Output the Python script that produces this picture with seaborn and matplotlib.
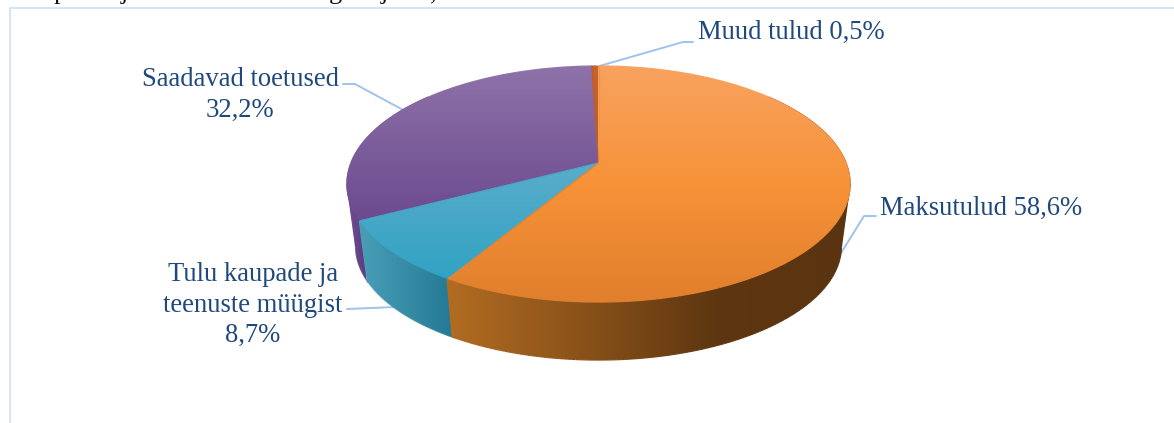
import numpy as np
import matplotlib
matplotlib.use("Agg")
import matplotlib.pyplot as plt
from matplotlib.collections import LineCollection
from matplotlib.colors import ListedColormap
from matplotlib.patches import PathPatch
from matplotlib.path import Path
import seaborn as sns

# andmed
categories = ["Maksutulud", "Tulu kaupade ja\nteenuste müügist", "Saadavad toetused", "Muud tulud"]
values = [58.6, 8.7, 32.2, 0.5]
separators = [" ", "\n", "\n", " "]
cropped_letters = ["p", "j", "g", "j", ","]

top_colors = [["#f9a25f", "#f79238", "#e07f2d"], ["#5aaccb", "#2fa2c2"], ["#8f72a9", "#6b4a8e"], ["#c8632a", "#c05a24"]]
wall_colors = [["#b26c22", "#8a5219", "#5e3611", "#5a3410"], ["#4a9fb8", "#247a94"], ["#6e4c90", "#5d3d7f"], ["#c8632a", "#c05a24"]]

sns.set_theme(style="white")
plt.rcParams["font.family"] = ["Liberation Serif", "DejaVu Serif"]

# pirukas on perspektiivis, seetõttu homograafia
CX, CY = 598.5, 163.0
A, B, K = 247.5, 114.3, 0.178
SCALE, CY_LOW = 0.966, 225.7


def ring(t, cy=CY, s=1.0):
    rad = np.radians(t)
    d = 1 + K * np.cos(rad)
    return CX + s * A * np.sin(rad) / d, cy - s * B * np.cos(rad) / d


def gradient(ax, colors, extent, horizontal, pts):
    pal = np.array(sns.blend_palette(colors, 256))
    g = np.linspace(0, 1, 256)
    g = g[None, :] if horizontal else g[:, None]
    im = ax.imshow(g, cmap=ListedColormap(pal), extent=extent, aspect="auto", zorder=2, interpolation="bilinear")
    closed = np.vstack([pts, pts[:1]])
    patch = PathPatch(Path(closed, closed=True), transform=ax.transData, fc="none", ec="none")
    ax.add_patch(patch)
    im.set_clip_path(patch)
    # klipp ei ole silutud, serv üle joonega samas värvis
    lo, hi = (extent[0], extent[1]) if horizontal else (extent[3], extent[2])
    pos = closed[:-1, 0] if horizontal else closed[:-1, 1]
    idx = np.clip(((pos - lo) / (hi - lo) * 255).astype(int), 0, 255)
    segs = np.stack([closed[:-1], closed[1:]], axis=1)
    ax.add_collection(LineCollection(segs, colors=pal[idx], linewidths=0.9, zorder=2))


fig = plt.figure(figsize=(11.74, 4.23), dpi=100)
ax = fig.add_axes([0, 0, 1, 1])

# raam
ax.plot([10, 10, 1174], [423, 8, 8], color="#d6e4f5", lw=1.4, zorder=1)

# katkenud tekstirida üleval
for x, s in zip([60, 124, 335, 384, 433], cropped_letters):
    ax.text(x, -1, s, fontsize=19, color="#111111", ha="center", va="baseline", zorder=1)

# viigud
leaders = [([876, 864, 838], [216, 216, 258]),
           ([347, 420], [309, 306]),
           ([343, 355, 405], [84, 84, 111]),
           ([693, 683, 596], [42, 42, 67])]
for xs, ys in leaders:
    ax.plot(xs, ys, color="#9fc3ec", lw=1.4, zorder=1)

angles = np.concatenate([[0], np.cumsum(values) / np.sum(values) * 360])
wall_extents = [(447, 850), (358, 452), (347, 366), (590, 600)]

# silueti täide ülemise ja alumise ringi äärmiste punktide vahel
dense = np.linspace(0, 360, 1441)
xt, yt = ring(dense)
xl, yl = ring(dense, CY_LOW, SCALE)
for pick, i in [(np.argmax, 0), (np.argmin, 2)]:
    j, k = pick(xt), pick(xl)
    pts = np.array([[xt[j], yt[j]], [xl[k], yl[k]], [CX + (xl[k] - CX) * 0.9, yl[k]], [CX + (xt[j] - CX) * 0.9, yt[j]]])
    e = wall_extents[i]
    gradient(ax, wall_colors[i], (e[0], e[1], 370, 60), True, pts)

# külgsein, Maksutulud viimasena
for i in [3, 2, 1, 0]:
    a0, a1 = max(angles[i] - 0.3, 50), min(angles[i + 1] + 0.3, 310)
    if a1 <= a0:
        continue
    t = np.linspace(a0, a1, 200)
    x1, y1 = ring(t)
    x2, y2 = ring(t, CY_LOW, SCALE)
    pts = np.column_stack([np.r_[x1, x2[::-1]], np.r_[y1, y2[::-1]]])
    e = wall_extents[i]
    gradient(ax, wall_colors[i], (e[0], e[1], 370, 60), True, pts)

# pealispind
top_extents = [(66, 302), (165, 285), (66, 222), (66, 165)]
for i in [2, 3, 1, 0]:
    t = np.linspace(angles[i], angles[i + 1], 200)
    x1, y1 = ring(t)
    pts = np.column_stack([np.r_[CX, x1], np.r_[CY, y1]])
    e = top_extents[i]
    gradient(ax, top_colors[i], (340, 860, e[1], e[0]), False, pts)

# sildid
positions = [(880, 208.5, "left"), (253, 305, "center"), (240, 95, "center"), (698, 32.5, "left")]
for i, (x, y, ha) in enumerate(positions):
    label = categories[i] + separators[i] + f"{values[i]:.1f}".replace(".", ",") + "%"
    ax.text(x, y, label, fontsize=19.2, color="#1f497d", ha=ha, va="center", linespacing=1.31, zorder=3,
            multialignment="center")

ax.set_xlim(0, 1174)
ax.set_ylim(423, 0)
ax.axis("off")
fig.savefig("out.png", dpi=100)
